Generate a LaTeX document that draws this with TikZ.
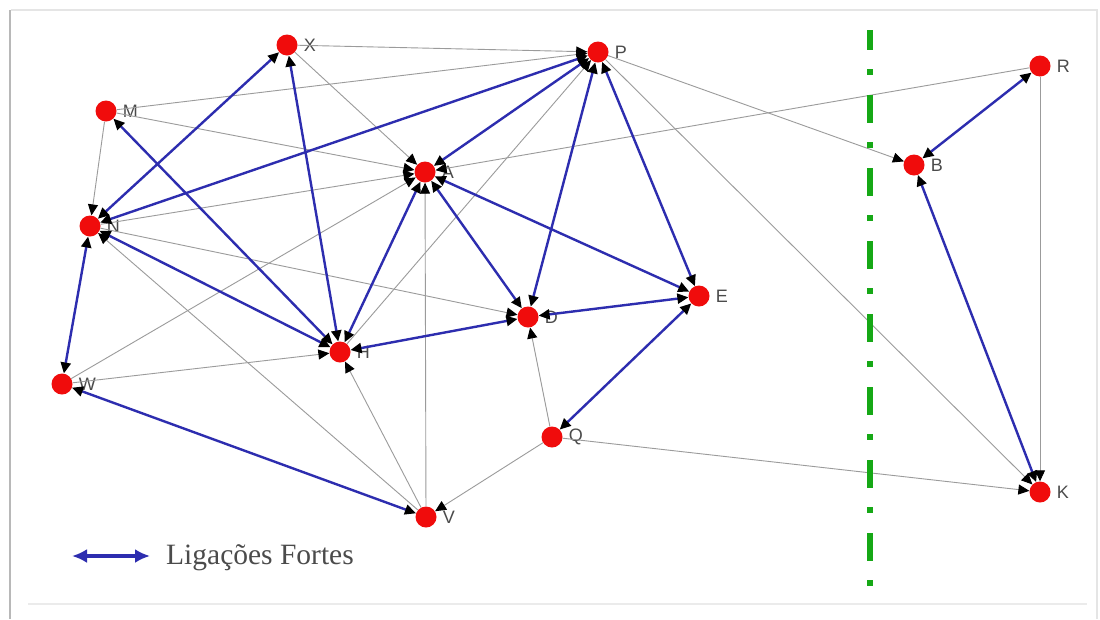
\documentclass[tikz,border=0pt]{standalone}
\usepackage{fontspec}
\setsansfont{Liberation Sans}
\setmainfont{Liberation Serif}
\usetikzlibrary{arrows.meta}
\definecolor{strongblue}{RGB}{45,45,175}
\definecolor{weakgray}{RGB}{155,155,155}
\definecolor{actorred}{RGB}{240,12,12}
\definecolor{sepgreen}{RGB}{22,168,22}
\definecolor{labelgray}{RGB}{75,75,75}
\begin{document}
\begin{tikzpicture}[x=1pt,y=-1pt,
  actor/.style={circle,fill=actorred,minimum size=21pt,inner sep=0pt},
  lbl/.style={font=\sffamily\fontsize{18}{18}\selectfont,text=labelgray,inner sep=1pt,label distance=5pt},
  headtip/.tip={Triangle[length=11pt,width=10pt,color=black]},
  weak/.style={draw=weakgray,line width=0.9pt,-headtip},
  strong/.style={draw=strongblue,line width=2.4pt,headtip-headtip},
  frameline/.style={line width=1.2pt}]
\useasboundingbox (0,0) rectangle (1100,619);
\fill[white] (0,0) rectangle (1100,619);

% soft frame of the figure
\draw[frameline,black!28] (10,10) -- (10,619);
\draw[frameline,black!10] (11,10) -- (1097,10) -- (1097,619);
\draw[frameline,black!8] (28,604) -- (1087,604);

% actors
\node[actor,label={[lbl]right:X}] (X) at (287,45) {};
\node[actor,label={[lbl]right:P}] (P) at (598,52) {};
\node[actor,label={[lbl]right:M}] (M) at (106,111) {};
\node[actor,label={[lbl]right:A}] (A) at (425,172) {};
\node[actor,label={[lbl]right:N}] (N) at (90,226) {};
\node[actor,label={[lbl]right:R}] (R) at (1040,66) {};
\node[actor,label={[lbl]right:B}] (B) at (914,165) {};
\node[actor,label={[lbl]right:E}] (E) at (699,296) {};
\node[actor,label={[lbl]right:D}] (D) at (528,317) {};
\node[actor,label={[lbl]right:H}] (H) at (340,352) {};
\node[actor,label={[lbl]right:W}] (W) at (62,384) {};
\node[actor,label={[lbl]right:Q}] (Q) at (552,437) {};
\node[actor,label={[lbl]right:V}] (V) at (426,517) {};
\node[actor,label={[lbl]right:K}] (K) at (1040,492) {};

% weak (one-way) ties
\foreach \s/\t in {X/P,X/A,M/P,M/A,M/N,N/A,N/D,V/N,W/A,W/H,H/P,V/A,V/H,
                   Q/V,Q/D,Q/K,P/K,P/B,R/A,R/K}
  \draw[weak] (\s) -- (\t);

% strong (two-way) ties
\foreach \s/\t in {N/X,H/X,H/M,N/P,H/N,N/W,W/V,A/P,A/H,A/D,A/E,P/D,P/E,
                   H/D,D/E,Q/E,B/R,B/K}
  \draw[strong] (\s) -- (\t);

% separator between the two groups
\draw[sepgreen,line width=6.5pt,dash pattern=on 28pt off 19pt on 6pt off 20pt,
      dash phase=8pt] (870,30) -- (870,590);

% legend
\coordinate (legL) at (72,556);
\coordinate (legR) at (150,556);
\draw[strongblue,line width=3.5pt,{Latex[length=15pt,width=14pt]}-{Latex[length=15pt,width=14pt]}]
  (legL) -- (legR);
\node[anchor=west,text=labelgray,font=\fontsize{29.5}{30}\selectfont,inner sep=0pt]
  (legtext) at (166,558) {Ligações Fortes};
\end{tikzpicture}
\end{document}
